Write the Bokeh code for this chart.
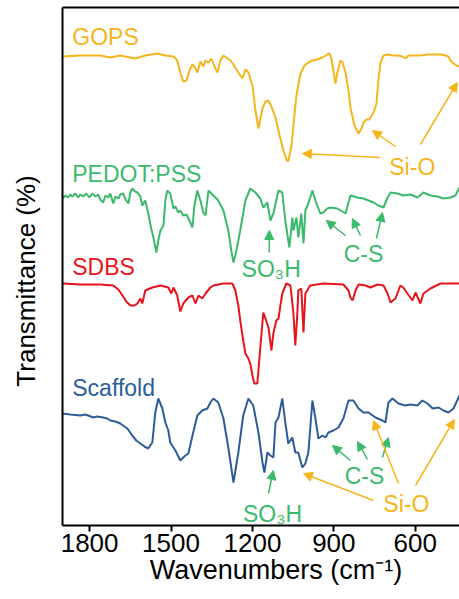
from bokeh.plotting import figure
from bokeh.models import Range1d, FixedTicker, LinearAxis, Arrow, NormalHead, Label
from bokeh.embed import file_html
from bokeh.resources import INLINE

FONT = "Liberation Sans"

# ---------------- data (wavenumber in cm-1, relative transmittance in a.u.) ----------------
gops_wn = [1900, 1834, 1761, 1724, 1687, 1632, 1595, 1550, 1521, 1491, 1477, 1466, 1455, 1443, 1432,
           1421, 1410, 1403, 1392, 1381, 1373, 1362, 1351, 1340, 1329, 1318, 1307, 1292, 1281, 1270,
           1252, 1237, 1226, 1215, 1200, 1189, 1178, 1163, 1152, 1141, 1130, 1115, 1100, 1086, 1075,
           1068, 1056, 1049, 1038, 1023, 1008, 994, 979, 961, 942, 924, 916, 909, 902, 894,
           887, 876, 868, 857, 846, 839, 824, 809, 798, 791, 780, 769, 754, 743, 736,
           728, 717, 702, 680, 662, 647, 636, 625, 607, 581, 555, 533, 507, 489, 478,
           470, 459, 448, 437]
gops_t = [-1, 0, 0, -2, 0, -3, 0, 2, 0, -1, -5, -17, -26, -25, -15,
          -9, -13, -17, -6, -11, -5, -7, -3, -11, -17, -5, 0, -3, -5, -9,
          -17, -23, -14, -17, -30, -55, -73, -53, -46, -45, -51, -62, -80, -95, -104,
          -106, -90, -70, -40, -18, -10, -7, -5, -4, -2, 1, 2, -3, -15, -28,
          -17, -5, -7, -17, -35, -52, -70, -78, -73, -67, -64, -64, -57, -48, -25,
          -7, 0, 1, 0, 0, -1, -3, 0, 0, 0, 1, 1, 1, 0, -1,
          -5, -8, -10, -11]

pedot_wn = [1900, 1889, 1879, 1871, 1864, 1853, 1842, 1834, 1823, 1812, 1801, 1790, 1779, 1768, 1761,
            1750, 1742, 1731, 1724, 1713, 1705, 1694, 1687, 1676, 1668, 1657, 1650, 1643, 1632, 1624,
            1613, 1606, 1595, 1584, 1573, 1565, 1554, 1547, 1539, 1528, 1521, 1514, 1503, 1491, 1484,
            1473, 1466, 1455, 1443, 1436, 1421, 1414, 1403, 1392, 1381, 1373, 1362, 1355, 1344, 1326,
            1307, 1289, 1278, 1270, 1259, 1245, 1226, 1208, 1189, 1171, 1160, 1145, 1134, 1123, 1104,
            1090, 1079, 1064, 1053, 1049, 1038, 1031, 1020, 1012, 1005, 994, 979, 968, 950, 939,
            924, 913, 887, 857, 839, 813, 791, 772, 754, 736, 717, 702, 691, 666, 644,
            618, 592, 570, 544, 518, 496, 470, 452, 437]
pedot_t = [-1, 2, 0, 3, 1, 4, 0, 3, 1, 4, 0, 4, 1, 3, -2,
           -5, 2, 0, 4, -6, 1, -1, 3, 4, -2, -6, 5, 9, 6, 5,
           1, -8, -3, -16, -31, -40, -55, -43, -33, -28, -3, 7, 4, -11, -9,
           -15, -13, -18, -17, -21, -30, -8, 7, -3, -15, -18, 7, 5, 2, -3,
           -13, -33, -53, -65, -53, -33, -3, 9, 5, -1, -10, -5, -23, -16, 7,
           5, -23, -50, -20, -33, -20, -40, -16, -46, -13, -6, 7, -3, -16, -15,
           -11, -10, -11, -16, 2, 0, -1, -3, -5, -8, -10, 0, 5, 4, 2,
           3, 0, 5, 2, 1, -1, 0, 2, 10]

sdbs_wn = [1900, 1834, 1761, 1713, 1694, 1679, 1665, 1650, 1635, 1624, 1613, 1606, 1595, 1569, 1539,
           1510, 1499, 1491, 1477, 1466, 1455, 1436, 1421, 1410, 1399, 1385, 1373, 1355, 1344, 1307,
           1274, 1263, 1252, 1245, 1234, 1226, 1215, 1208, 1200, 1193, 1182, 1171, 1160, 1152, 1141,
           1130, 1123, 1112, 1104, 1097, 1090, 1075, 1060, 1049, 1042, 1034, 1031, 1020, 1012, 1005,
           987, 939, 865, 846, 839, 831, 820, 809, 783, 765, 739, 717, 702, 691, 673,
           655, 644, 629, 610, 599, 581, 570, 544, 507, 437]
sdbs_t = [1, 0, 0, -1, -5, -11, -17, -21, -21, -19, -14, -19, -6, -3, -1,
          -3, -9, -3, -11, -27, -19, -13, -11, -19, -11, -14, -9, -3, -1, 1,
          1, -6, -21, -36, -56, -69, -74, -79, -91, -99, -99, -63, -28, -34, -43,
          -66, -49, -36, -34, -21, -9, 1, -1, -29, -61, -26, -6, -4, -48, -9,
          -1, 1, 0, -6, -13, -16, -6, 0, -1, -3, 0, -1, -9, -18, -14,
          -1, -3, -9, -16, -8, -19, -9, -4, 1, 1]

scaf_wn = [1900, 1871, 1834, 1816, 1786, 1772, 1750, 1735, 1724, 1705, 1687, 1661, 1643, 1628, 1613,
           1598, 1584, 1569, 1558, 1547, 1532, 1521, 1510, 1503, 1484, 1473, 1466, 1455, 1447, 1436,
           1421, 1403, 1385, 1366, 1355, 1344, 1326, 1307, 1289, 1270, 1252, 1234, 1215, 1197, 1178,
           1163, 1156, 1145, 1134, 1123, 1115, 1104, 1090, 1079, 1068, 1053, 1042, 1031, 1016, 1005,
           994, 979, 968, 957, 942, 931, 920, 902, 883, 865, 846, 828, 809, 791, 772,
           747, 721, 710, 699, 684, 662, 636, 618, 592, 574, 555, 536, 514, 496, 478,
           459, 437]
scaf_t = [0, -1, -2, -1, -4, -3, -4, -5, -7, -8, -10, -15, -22, -27, -30,
          -33, -35, -29, 1, 15, 5, -9, -17, -29, -37, -43, -47, -44, -42, -40,
          -22, -2, 3, 5, 11, 15, 11, -5, -34, -69, -39, -2, 15, 8, -19,
          -49, -59, -39, -42, -44, -9, -4, 15, -9, -30, -24, -39, -39, -54, -50,
          -39, 13, -5, -25, -22, -24, -19, -17, -14, -5, 13, 13, 5, 1, 1,
          -4, -7, -9, 11, 15, 10, 8, 9, 8, 13, 10, 5, 6, 3, 1,
          5, 18]

names = ["GOPS", "PEDOT:PSS", "SDBS", "Scaffold"]
offsets = [470, 328, 241, 112]
colors = ["#F6B51C", "#3CBA6C", "#E8141B", "#2C5D98"]
spectra = [(gops_wn, gops_t), (pedot_wn, pedot_t), (sdbs_wn, sdbs_t), (scaf_wn, scaf_t)]

x_ticks = [1800, 1500, 1200, 900, 600]

# series name labels (wavenumber, height)
name_pos = [(1864, 489), (1864, 352), (1864, 259), (1864, 138)]

# band annotations: text, x, y, color index
band_text = [("Si-O", 611, 359, 0), ("SO\u2083H", 1131, 257, 1), ("C-S", 791, 272, 1),
             ("C-S", 787, 50, 1), ("Si-O", 633, 22, 0), ("SO\u2083H", 1126, 12, 1)]
# arrows: x_start, y_start, x_end, y_end, color index
band_arrows = [(729, 368, 1016, 372, 0), (673, 379, 758, 395, 0), (581, 381, 445, 443, 0),
               (1138, 273, 1138, 295, 1),
               (857, 290, 928, 305, 1), (802, 290, 832, 307, 1), (743, 287, 721, 313, 1),
               (839, 65, 905, 80, 1), (776, 66, 813, 84, 1), (721, 68, 699, 88, 1),
               (754, 25, 1012, 52, 0), (662, 42, 754, 105, 0), (599, 40, 456, 106, 0),
               (1141, 32, 1123, 55, 1)]

# ---------------- figure ----------------
p = figure(width=459, height=599, output_backend="svg", toolbar_location=None,
           x_range=Range1d(1900, 437), y_range=Range1d(0, 518),
           min_border_left=62, min_border_right=0, min_border_top=7, min_border_bottom=74)
p.outline_line_color = None
p.grid.visible = False
p.background_fill_color = "white"
p.border_fill_color = "white"

for (wn, t), off, c in zip(spectra, offsets, colors):
    p.line(wn, [off + v for v in t], line_color=c, line_width=2)

for name, (x, y), c in zip(names, name_pos, colors):
    p.add_layout(Label(x=x, y=y, text=name, text_font=FONT, text_font_size="23px",
                       text_color=c, text_align="left", text_baseline="alphabetic"))

for txt, x, y, ci in band_text:
    p.add_layout(Label(x=x, y=y, text=txt, text_font=FONT, text_font_size="23px",
                       text_color=colors[ci], text_align="center", text_baseline="alphabetic"))

for xs, ys, xe, ye, ci in band_arrows:
    c = colors[ci]
    p.add_layout(Arrow(x_start=xs, y_start=ys, x_end=xe, y_end=ye, line_color=c, line_width=1.5,
                       end=NormalHead(size=9, fill_color=c, line_color=c, line_width=1)))

NB = "\u00a0"
xa = p.xaxis[0]
xa.ticker = FixedTicker(ticks=x_ticks)
xa.axis_label = NB * 4 + "Wavenumbers (cm\u207b\u00b9)"
xa.axis_line_width = 2
xa.major_tick_line_width = 2
xa.major_tick_out = 6
xa.major_tick_in = 0
xa.minor_tick_line_color = None
xa.major_label_text_font = FONT
xa.major_label_text_font_size = "26px"
xa.major_label_text_color = "black"
xa.major_label_standoff = 2
xa.axis_label_text_font = FONT
xa.axis_label_text_font_size = "27px"
xa.axis_label_text_font_style = "normal"
xa.axis_label_text_color = "black"
xa.axis_label_standoff = 0

ya = p.yaxis[0]
ya.ticker = FixedTicker(ticks=[])
ya.axis_label = "Transmittance (%)" + NB * 4
ya.axis_line_width = 2
ya.major_tick_out = 0
ya.major_tick_in = 0
ya.minor_tick_line_color = None
ya.major_label_text_font_size = "0px"
ya.axis_label_text_font = FONT
ya.axis_label_text_font_size = "26px"
ya.axis_label_text_font_style = "normal"
ya.axis_label_text_color = "black"
ya.axis_label_standoff = 22

top = LinearAxis(ticker=FixedTicker(ticks=[]), axis_line_width=2, major_tick_out=0, major_tick_in=0,
                 minor_tick_line_color=None, major_label_text_font_size="0px")
p.add_layout(top, "above")

open("out.html", "w").write(file_html(p, INLINE))
